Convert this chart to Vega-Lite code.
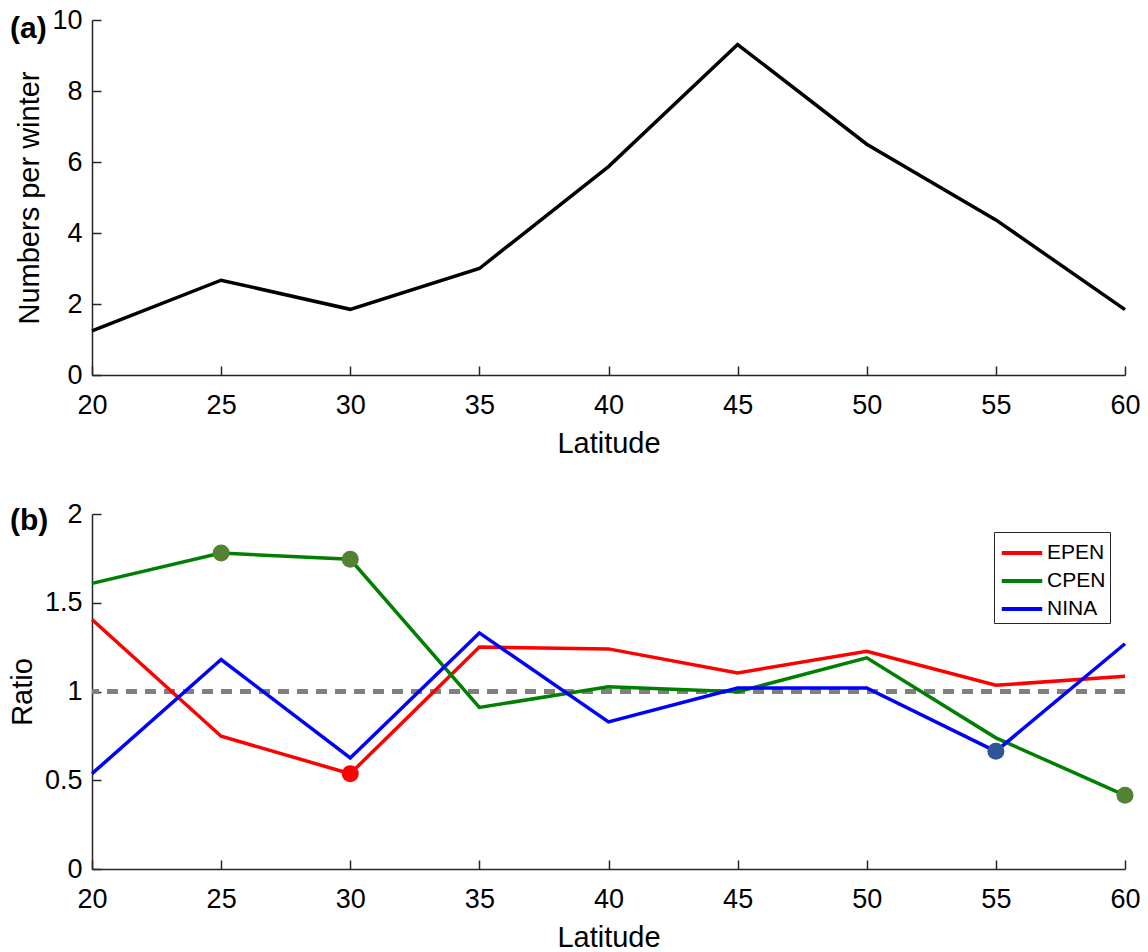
{
  "$schema": "https://vega.github.io/schema/vega-lite/v6.json",
  "padding": {"left": 8, "top": 6, "right": 0, "bottom": 0},
  "background": "white",
  "datasets": {
    "a": [
      {"lat": 20, "n": 1.24},
      {"lat": 25, "n": 2.67},
      {"lat": 30, "n": 1.85},
      {"lat": 35, "n": 3.0},
      {"lat": 40, "n": 5.87},
      {"lat": 45, "n": 9.31},
      {"lat": 50, "n": 6.5},
      {"lat": 55, "n": 4.37},
      {"lat": 60, "n": 1.84}
    ],
    "b": [
      {"lat": 20, "series": "EPEN", "ratio": 1.406, "sig": false},
      {"lat": 25, "series": "EPEN", "ratio": 0.748, "sig": false},
      {"lat": 30, "series": "EPEN", "ratio": 0.537, "sig": true},
      {"lat": 35, "series": "EPEN", "ratio": 1.25, "sig": false},
      {"lat": 40, "series": "EPEN", "ratio": 1.24, "sig": false},
      {"lat": 45, "series": "EPEN", "ratio": 1.105, "sig": false},
      {"lat": 50, "series": "EPEN", "ratio": 1.227, "sig": false},
      {"lat": 55, "series": "EPEN", "ratio": 1.035, "sig": false},
      {"lat": 60, "series": "EPEN", "ratio": 1.086, "sig": false},
      {"lat": 20, "series": "CPEN", "ratio": 1.609, "sig": false},
      {"lat": 25, "series": "CPEN", "ratio": 1.78, "sig": true},
      {"lat": 30, "series": "CPEN", "ratio": 1.745, "sig": true},
      {"lat": 35, "series": "CPEN", "ratio": 0.91, "sig": false},
      {"lat": 40, "series": "CPEN", "ratio": 1.027, "sig": false},
      {"lat": 45, "series": "CPEN", "ratio": 0.998, "sig": false},
      {"lat": 50, "series": "CPEN", "ratio": 1.19, "sig": false},
      {"lat": 55, "series": "CPEN", "ratio": 0.739, "sig": false},
      {"lat": 60, "series": "CPEN", "ratio": 0.415, "sig": true},
      {"lat": 20, "series": "NINA", "ratio": 0.537, "sig": false},
      {"lat": 25, "series": "NINA", "ratio": 1.18, "sig": false},
      {"lat": 30, "series": "NINA", "ratio": 0.626, "sig": false},
      {"lat": 35, "series": "NINA", "ratio": 1.33, "sig": false},
      {"lat": 40, "series": "NINA", "ratio": 0.829, "sig": false},
      {"lat": 45, "series": "NINA", "ratio": 1.02, "sig": false},
      {"lat": 50, "series": "NINA", "ratio": 1.02, "sig": false},
      {"lat": 55, "series": "NINA", "ratio": 0.663, "sig": true},
      {"lat": 60, "series": "NINA", "ratio": 1.269, "sig": false}
    ]
  },
  "config": {
    "font": "Liberation Sans",
    "view": {"stroke": null},
    "axis": {
      "grid": false,
      "domainColor": "#262626",
      "domainWidth": 1.5,
      "tickColor": "#262626",
      "tickWidth": 1.5,
      "tickSize": -9,
      "labelColor": "#000000",
      "labelFontSize": 27,
      "labelFont": "Liberation Sans",
      "titleFont": "Liberation Sans",
      "titleFontSize": 29,
      "titleFontWeight": "normal",
      "titleColor": "#000000"
    },
    "axisX": {"labelPadding": 26, "titlePadding": 11, "labelFlush": false},
    "axisY": {"labelPadding": 19, "titlePadding": 7}
  },
  "spacing": 42,
  "resolve": {"legend": {"color": "independent", "fill": "independent"}},
  "vconcat": [
    {
      "width": 1033,
      "height": 355,
      "layer": [
        {
          "data": {"name": "a"},
          "mark": {"type": "line", "color": "#000000", "strokeWidth": 3.5},
          "encoding": {
            "x": {"field": "lat", "type": "quantitative", "title": "Latitude", "scale": {"domain": [20, 60], "nice": false, "zero": false}, "axis": {"values": [20, 25, 30, 35, 40, 45, 50, 55, 60]}},
            "y": {"field": "n", "type": "quantitative", "title": "Numbers per winter", "scale": {"domain": [0, 10], "nice": false}, "axis": {"values": [0, 2, 4, 6, 8, 10]}}
          }
        },
        {
          "data": {"values": [{"label": "(a)"}]},
          "mark": {"type": "text", "align": "left", "baseline": "alphabetic", "dx": -82, "dy": 18, "fontSize": 30, "fontWeight": "bold", "color": "#000000", "font": "Liberation Sans"},
          "encoding": {
            "x": {"datum": 20},
            "y": {"datum": 10},
            "text": {"field": "label"}
          }
        }
      ]
    },
    {
      "width": 1033,
      "height": 355,
      "layer": [
        {
          "data": {"name": "b"},
          "mark": {"type": "rule", "color": "#808080", "strokeWidth": 3.5, "strokeDash": [11, 8]},
          "encoding": {"y": {"datum": 1}}
        },
        {
          "data": {"name": "b"},
          "mark": {"type": "line", "strokeWidth": 3.5},
          "encoding": {
            "x": {"field": "lat", "type": "quantitative", "title": "Latitude", "scale": {"domain": [20, 60], "nice": false, "zero": false}, "axis": {"values": [20, 25, 30, 35, 40, 45, 50, 55, 60]}},
            "y": {"field": "ratio", "type": "quantitative", "title": "Ratio", "scale": {"domain": [0, 2], "nice": false}, "axis": {"values": [0, 0.5, 1, 1.5, 2], "format": "~g"}},
            "color": {
              "field": "series", "type": "nominal",
              "scale": {"domain": ["EPEN", "CPEN", "NINA"], "range": ["#ff0000", "#008000", "#0000ff"]},
              "legend": {
                "title": null, "orient": "none", "legendX": 902, "legendY": 18,
                "symbolType": "M-1.35,0H1.35", "symbolSize": 900, "symbolStrokeWidth": 4, "symbolOffset": 7,
                "symbolFillColor": "transparent",
                "labelFontSize": 21, "labelColor": "#000000", "labelFont": "Liberation Sans",
                "strokeColor": "#262626", "fillColor": "#ffffff", "padding": 4, "rowPadding": 1, "labelOffset": 8
              }
            }
          }
        },
        {
          "data": {"name": "b"},
          "transform": [{"filter": "datum.sig"}],
          "mark": {"type": "point", "filled": true, "size": 290, "opacity": 1, "shape": "circle"},
          "encoding": {
            "x": {"field": "lat", "type": "quantitative"},
            "y": {"field": "ratio", "type": "quantitative"},
            "fill": {
              "field": "series", "type": "nominal",
              "scale": {"domain": ["EPEN", "CPEN", "NINA"], "range": ["#ff0000", "#548235", "#2f5597"]},
              "legend": null
            }
          }
        },
        {
          "data": {"values": [{"label": "(b)"}]},
          "mark": {"type": "text", "align": "left", "baseline": "alphabetic", "dx": -82, "dy": 16, "fontSize": 30, "fontWeight": "bold", "color": "#000000", "font": "Liberation Sans"},
          "encoding": {
            "x": {"datum": 20},
            "y": {"datum": 2},
            "text": {"field": "label"}
          }
        }
      ]
    }
  ]
}
